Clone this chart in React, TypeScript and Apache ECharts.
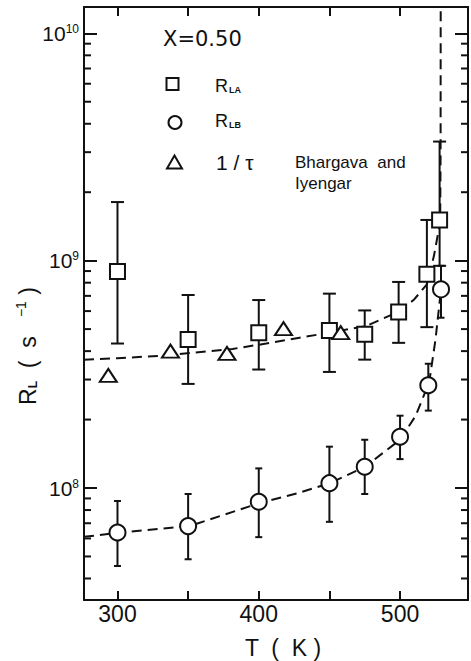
import React, { useEffect, useRef } from "react";
import * as echarts from "echarts";

// R_LA (squares): temperature (K), rate (s^-1), error bar low/high
const squareT = [300, 350, 400, 450, 475, 499, 519, 528];
const squareR = [8.96e8, 4.5e8, 4.82e8, 4.93e8, 4.74e8, 5.94e8, 8.72e8, 1.51e9];
const squareLow = [4.32e8, 2.87e8, 3.32e8, 3.24e8, 3.67e8, 4.35e8, 5.1e8, 9.49e8];
const squareHigh = [1.81e9, 7.06e8, 6.71e8, 7.16e8, 6.04e8, 8.06e8, 1.51e9, 3.34e9];

// R_LB (circles)
const circleT = [300, 350, 400, 450, 475, 500, 520, 529];
const circleR = [6.37e7, 6.8e7, 8.7e7, 1.05e8, 1.24e8, 1.68e8, 2.83e8, 7.48e8];
const circleLow = [4.54e7, 4.86e7, 6.08e7, 7.1e7, 9.41e7, 1.34e8, 2.19e8, 5.61e8];
const circleHigh = [8.77e7, 9.41e7, 1.22e8, 1.52e8, 1.63e8, 2.08e8, 3.52e8, 9.49e8];

// 1/tau, Bhargava and Iyengar (triangles)
const triT = [293.5, 337.5, 377.5, 417.5, 458];
const triR = [3.13e8, 4.0e8, 3.91e8, 5.02e8, 4.82e8];

// dashed guide curves
const fitAT = [276.3, 300, 334.5, 381.4, 405.3, 428.9, 452.3, 476.2, 499.9, 510, 519, 524, 528.4, 528.7, 528.8];
const fitAR = [3.67e8, 3.72e8, 3.83e8, 4.09e8, 4.32e8, 4.58e8, 4.85e8, 5.16e8, 6.0e8, 6.75e8, 7.87e8, 1.05e9, 1.48e9, 3.0e9, 2.0e10];
const fitBT = [276.3, 300, 350.9, 401, 427.8, 450.3, 475.2, 500, 510.9, 520.6, 525.1, 529];
const fitBR = [6.1e7, 6.35e7, 6.8e7, 8.6e7, 9.5e7, 1.05e8, 1.24e8, 1.63e8, 2.07e8, 2.91e8, 4.5e8, 7.48e8];

// axes
const xMin = 276.3;
const xMax = 548.1;
const yMin = 3.217e7;
const yMax = 1.305e10;
const xLabelValues = [300, 400, 500];
const yMinorValues = [
  4e7, 5e7, 6e7, 7e7, 8e7, 9e7,
  2e8, 3e8, 4e8, 5e8, 6e8, 7e8, 8e8, 9e8,
  2e9, 3e9, 4e9, 5e9, 6e9, 7e9, 8e9, 9e9,
];

const INK = "#111";
const FONT = "Liberation Sans";

export default function App() {
  const ref = useRef<HTMLDivElement>(null);

  useEffect(() => {
    const chart = echarts.init(ref.current as HTMLDivElement, null, { renderer: "svg" });

    const errRender = (cap: number) => (params: any, api: any) => {
      const x = api.value(0);
      const p1 = api.coord([x, api.value(1)]);
      const p2 = api.coord([x, api.value(2)]);
      const st = { stroke: INK, lineWidth: 2, fill: "none" };
      return {
        type: "group",
        children: [
          { type: "line", shape: { x1: p1[0], y1: p1[1], x2: p2[0], y2: p2[1] }, style: st },
          { type: "line", shape: { x1: p1[0] - cap, y1: p1[1], x2: p1[0] + cap, y2: p1[1] }, style: st },
          { type: "line", shape: { x1: p2[0] - cap, y1: p2[1], x2: p2[0] + cap, y2: p2[1] }, style: st },
        ],
      };
    };

    const minorRender = (params: any, api: any) => {
      const p = api.coord([xMin, api.value(1)]);
      const cs = params.coordSys;
      const L = 7;
      const st = { stroke: INK, lineWidth: 2 };
      return {
        type: "group",
        children: [
          { type: "line", shape: { x1: cs.x, y1: p[1], x2: cs.x + L, y2: p[1] }, style: st },
          { type: "line", shape: { x1: cs.x + cs.width - L, y1: p[1], x2: cs.x + cs.width, y2: p[1] }, style: st },
        ],
      };
    };

    const isPow10 = (v: number) => Math.abs(Math.log10(v) - Math.round(Math.log10(v))) < 1e-6;
    const supDigits = (n: number) => String(n);

    const markerStyle = { color: "#fff", borderColor: INK, borderWidth: 2, opacity: 1 };

    const option: any = {
      animation: false,
      backgroundColor: "#fff",
      grid: { left: 84, right: 3, top: 7, bottom: 61 },
      xAxis: [
        {
          type: "value",
          min: xMin,
          max: xMax,
          minInterval: 50,
          maxInterval: 50,
          position: "bottom",
          axisLine: { show: true, lineStyle: { color: INK, width: 2 } },
          axisTick: { show: true, inside: true, length: 9, lineStyle: { color: INK, width: 2 } },
          axisLabel: {
            show: true,
            margin: 2,
            color: INK,
            fontFamily: FONT,
            fontSize: 23,
            formatter: (v: number) => (xLabelValues.some((t) => Math.abs(t - v) < 1e-6) ? String(Math.round(v)) : ""),
          },
          splitLine: { show: false },
        },
        {
          type: "value",
          min: xMin,
          max: xMax,
          minInterval: 50,
          maxInterval: 50,
          position: "top",
          axisLine: { show: true, lineStyle: { color: INK, width: 2 } },
          axisTick: { show: true, inside: true, length: 9, lineStyle: { color: INK, width: 2 } },
          axisLabel: { show: false },
          splitLine: { show: false },
        },
      ],
      yAxis: [
        {
          type: "log",
          logBase: 10,
          min: yMin,
          max: yMax,
          position: "left",
          axisLine: { show: true, lineStyle: { color: INK, width: 2 } },
          axisTick: { show: true, inside: true, length: 13, lineStyle: { color: INK, width: 2 } },
          axisLabel: {
            show: true,
            margin: 5,
            color: INK,
            formatter: (v: number) => {
              if (!isPow10(v)) return "";
              return "{b|10}{s|" + supDigits(Math.round(Math.log10(v))) + "}";
            },
            rich: {
              b: { fontFamily: FONT, fontSize: 21, lineHeight: 21, color: INK, verticalAlign: "bottom" },
              s: { fontFamily: FONT, fontSize: 12, lineHeight: 12, color: INK, verticalAlign: "top", padding: [0, 0, 18, 0] },
            },
          },
          splitLine: { show: false },
        },
        {
          type: "log",
          logBase: 10,
          min: yMin,
          max: yMax,
          position: "right",
          axisLine: { show: true, lineStyle: { color: INK, width: 2 } },
          axisTick: { show: true, inside: true, length: 13, lineStyle: { color: INK, width: 2 } },
          axisLabel: { show: false },
          splitLine: { show: false },
        },
      ],
      series: [
        {
          type: "custom",
          name: "minor ticks",
          renderItem: minorRender,
          data: yMinorValues.map((v) => [xMin, v]),
          silent: true,
          z: 1,
        },
        {
          type: "line",
          name: "fit A",
          data: fitAT.map((t, i) => [t, fitAR[i]]),
          showSymbol: false,
          symbol: "none",
          lineStyle: { color: INK, width: 2, type: [10, 6] },
          clip: true,
          z: 2,
        },
        {
          type: "line",
          name: "fit B",
          data: fitBT.map((t, i) => [t, fitBR[i]]),
          showSymbol: false,
          symbol: "none",
          lineStyle: { color: INK, width: 2, type: [10, 6] },
          clip: true,
          z: 2,
        },
        {
          type: "custom",
          name: "R_LA errors",
          renderItem: errRender(6.5),
          data: squareT.map((t, i) => [t, squareLow[i], squareHigh[i]]),
          clip: true,
          z: 3,
        },
        {
          type: "custom",
          name: "R_LB errors",
          renderItem: errRender(3.5),
          data: circleT.map((t, i) => [t, circleLow[i], circleHigh[i]]),
          clip: true,
          z: 3,
        },
        {
          type: "scatter",
          name: "R_LA",
          symbol: "rect",
          symbolSize: 15,
          itemStyle: markerStyle,
          data: squareT.map((t, i) => [t, squareR[i]]),
          z: 5,
        },
        {
          type: "scatter",
          name: "R_LB",
          symbol: "circle",
          symbolSize: 16,
          itemStyle: markerStyle,
          data: circleT.map((t, i) => [t, circleR[i]]),
          z: 5,
        },
        {
          type: "scatter",
          name: "1/tau",
          symbol: "triangle",
          symbolSize: [17, 13],
          itemStyle: markerStyle,
          data: triT.map((t, i) => [t, triR[i]]),
          z: 5,
        },
      ],
      graphic: [
        {
          type: "text",
          left: 163,
          top: 28,
          style: { text: "X=0.50", fontFamily: "DejaVu Sans", fontSize: 21, fill: INK },
        },
        {
          type: "rect",
          shape: { x: 166.5, y: 78, width: 12, height: 12 },
          style: { fill: "#fff", stroke: INK, lineWidth: 2 },
        },
        {
          type: "circle",
          shape: { cx: 175, cy: 122.5, r: 6.5 },
          style: { fill: "#fff", stroke: INK, lineWidth: 2 },
        },
        {
          type: "polygon",
          shape: { points: [[167, 168.5], [182, 168.5], [174.5, 155.5]] },
          style: { fill: "#fff", stroke: INK, lineWidth: 2 },
        },
        {
          type: "text",
          x: 215,
          y: 86.5,
          style: {
            text: "{r|R}{s|LA}",
            verticalAlign: "middle",
            rich: {
              r: { fontFamily: FONT, fontSize: 18, lineHeight: 20, fill: INK, verticalAlign: "top" },
              s: { fontFamily: FONT, fontSize: 9, fontWeight: "bold", lineHeight: 9, fill: INK, verticalAlign: "bottom", padding: [0, 0, 2, 1] },
            },
          },
        },
        {
          type: "text",
          x: 215,
          y: 121.5,
          style: {
            text: "{r|R}{s|LB}",
            verticalAlign: "middle",
            rich: {
              r: { fontFamily: FONT, fontSize: 18, lineHeight: 20, fill: INK, verticalAlign: "top" },
              s: { fontFamily: FONT, fontSize: 9, fontWeight: "bold", lineHeight: 9, fill: INK, verticalAlign: "bottom", padding: [0, 0, 2, 1] },
            },
          },
        },
        {
          type: "text",
          x: 216,
          y: 162.5,
          style: { text: "1 / τ", fontFamily: FONT, fontSize: 21, fill: INK, verticalAlign: "middle" },
        },
        {
          type: "text",
          x: 295,
          y: 162,
          style: { text: "Bhargava  and", fontFamily: FONT, fontSize: 17, fill: INK, verticalAlign: "middle" },
        },
        {
          type: "text",
          x: 295,
          y: 183,
          style: { text: "Iyengar", fontFamily: FONT, fontSize: 17, fill: INK, verticalAlign: "middle" },
        },
        {
          type: "text",
          x: 283,
          y: 648,
          style: { text: "T  (  K )", fontFamily: FONT, fontSize: 23, fill: INK, align: "center", verticalAlign: "middle" },
        },
        {
          type: "text",
          x: 28,
          y: 346,
          rotation: Math.PI / 2,
          style: {
            text: "{r|R}{sub|L}{r|  (  s   }{sup|−1}{r| )}",
            align: "center",
            verticalAlign: "middle",
            rich: {
              r: { fontFamily: FONT, fontSize: 23, lineHeight: 28, fill: INK, verticalAlign: "middle" },
              sub: { fontFamily: FONT, fontSize: 12, fontWeight: "bold", lineHeight: 12, fill: INK, verticalAlign: "bottom", padding: [0, 0, 3, 0] },
              sup: { fontFamily: FONT, fontSize: 14, lineHeight: 14, fill: INK, verticalAlign: "top" },
            },
          },
        },
      ],
    };

    chart.setOption(option);
    return () => {
      chart.dispose();
    };
  }, []);

  return (
    <div
      ref={ref}
      style={{ position: "fixed", left: 0, top: 0, width: 471, height: 661, background: "#fff" }}
    />
  );
}
